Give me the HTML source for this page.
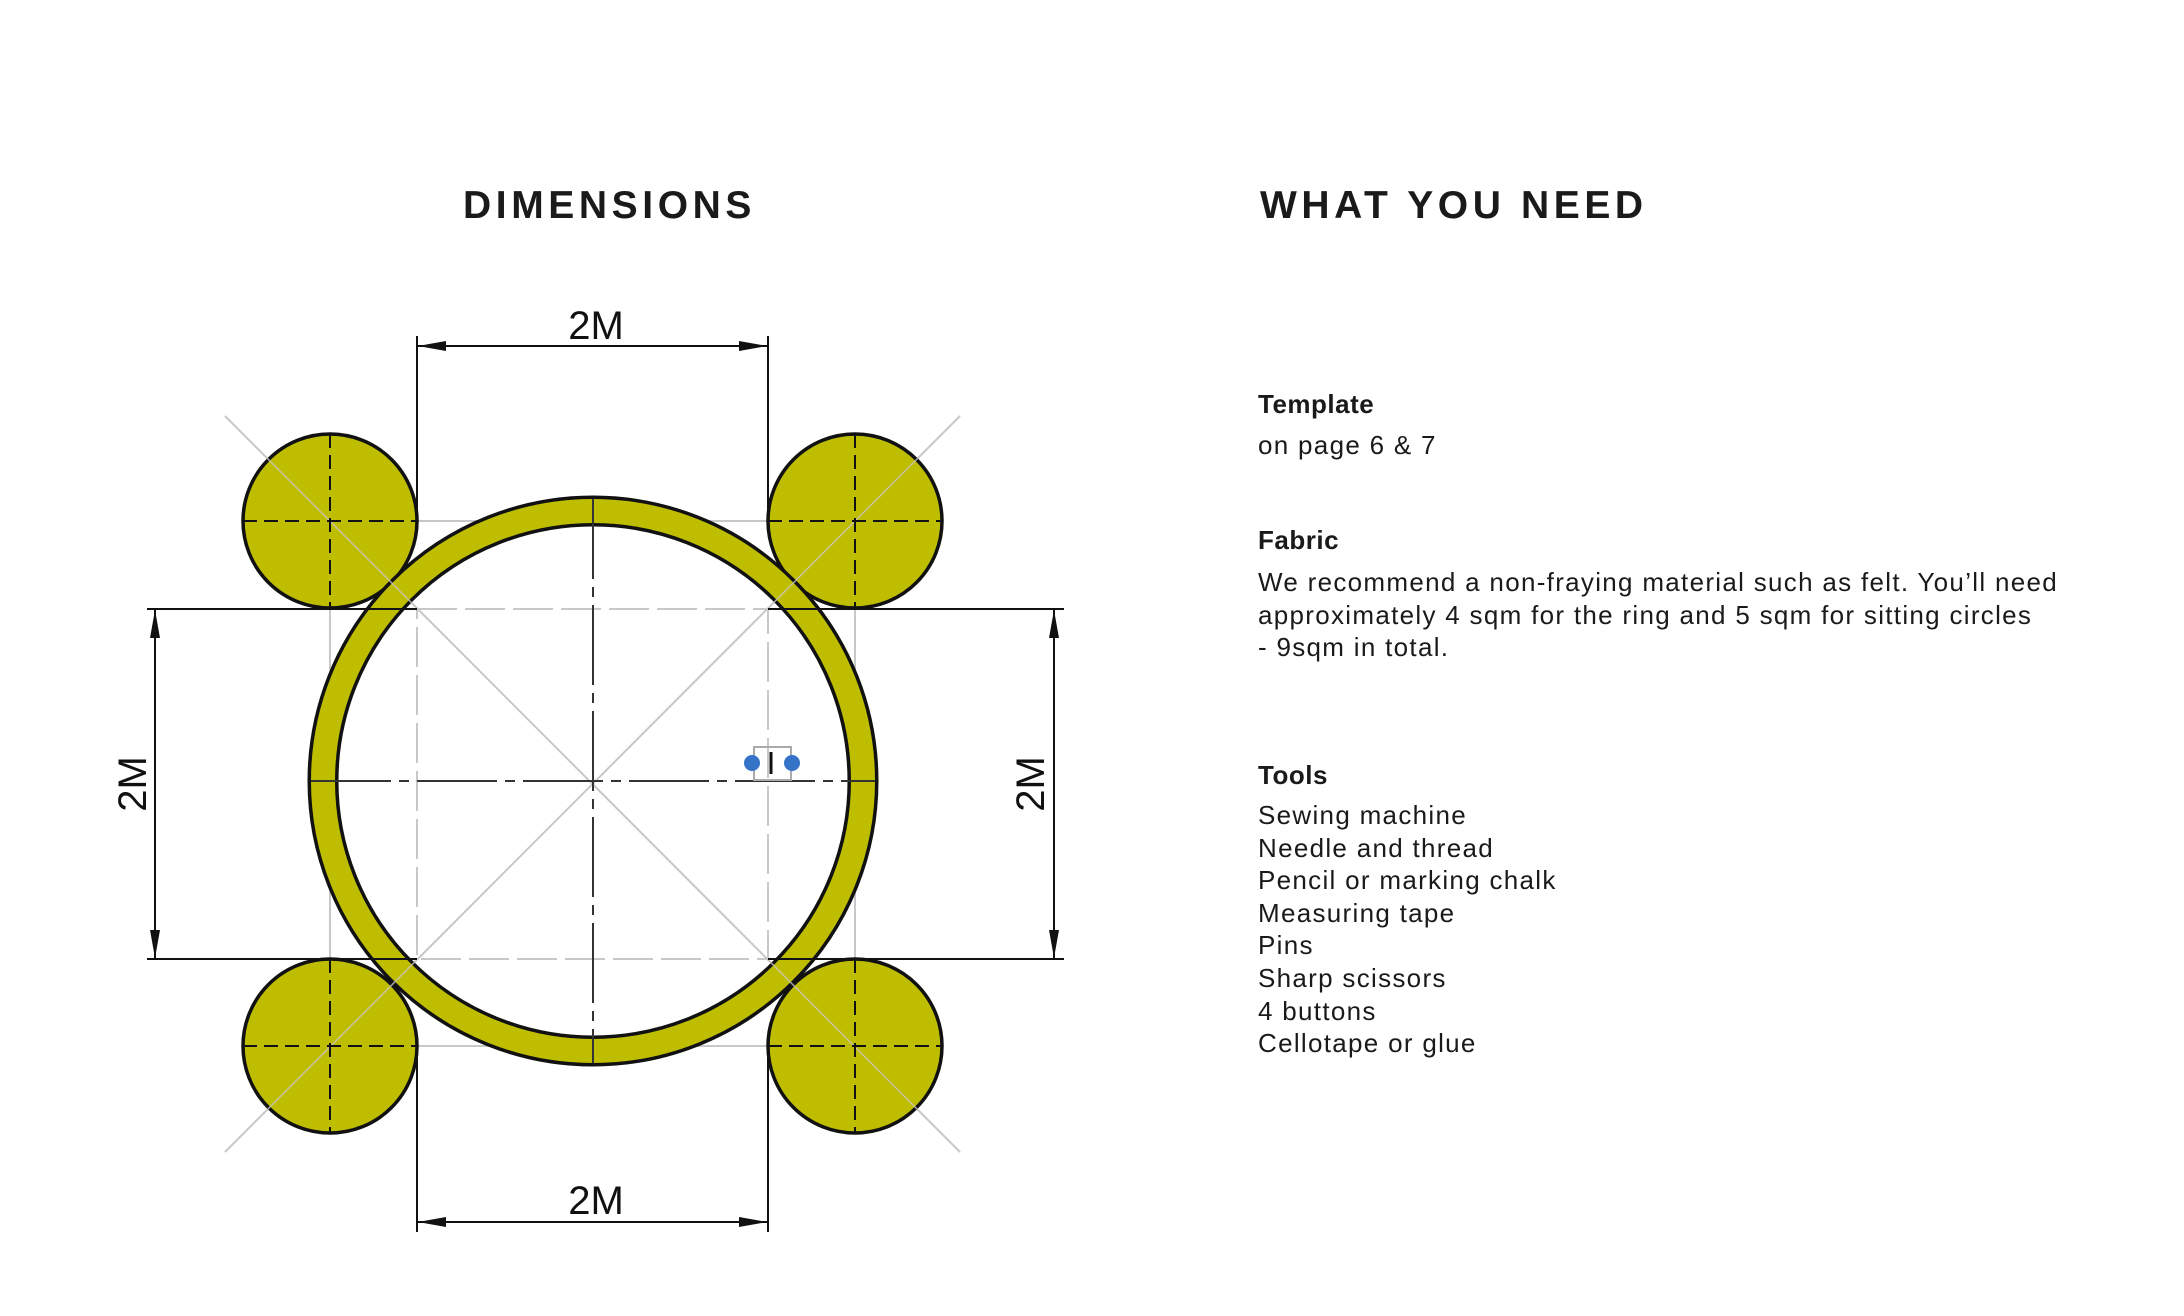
<!DOCTYPE html>
<html><head><meta charset="utf-8"><style>
html,body{margin:0;padding:0;background:#fff;}
body{width:2184px;height:1316px;position:relative;overflow:hidden;font-family:"Liberation Sans",sans-serif;color:#1a1a1a;}
.h{position:absolute;font-weight:bold;font-size:39px;letter-spacing:4.6px;top:184px;white-space:nowrap;}
.t{position:absolute;left:1261px;font-size:26px;letter-spacing:1.3px;line-height:32.6px;white-space:nowrap;}
.b{font-weight:bold;letter-spacing:0.5px;}
</style></head><body>
<div class="h" style="left:463px">DIMENSIONS</div>
<div class="h" style="left:1260px">WHAT YOU NEED</div>
<div class="t b" style="top:388px;left:1258px">Template</div>
<div class="t" style="top:429px;left:1258px">on page 6 &amp; 7</div>
<div class="t b" style="top:524px;left:1258px">Fabric</div>
<div class="t" style="top:566px;left:1258px">We recommend a non-fraying material such as felt. You’ll need<br>approximately 4 sqm for the ring and 5 sqm for sitting circles<br>- 9sqm in total.</div>
<div class="t b" style="top:759px;left:1258px">Tools</div>
<div class="t" style="top:799px;left:1258px">Sewing machine<br>Needle and thread<br>Pencil or marking chalk<br>Measuring tape<br>Pins<br>Sharp scissors<br>4 buttons<br>Cellotape or glue</div>
<svg width="2184" height="1316" style="position:absolute;left:0;top:0">
<defs>
<marker id="a" viewBox="0 0 28 12" refX="28" refY="6" markerWidth="28" markerHeight="12" markerUnits="userSpaceOnUse" orient="auto-start-reverse"><path d="M0,1 L28,6 L0,11z" fill="#111"/></marker>
</defs>
<g transform="translate(-3,-3)">
<g stroke="#c8c8c8" stroke-width="2" fill="none">
<line x1="228" y1="419" x2="963" y2="1155"/>
<line x1="963" y1="419" x2="228" y2="1155"/>
<rect x="333" y="524" width="525" height="525"/>
<rect x="420" y="612" width="351" height="350" stroke-dasharray="40 8"/>
</g>
<g fill="#bfbd00" stroke="#111" stroke-width="3.5">
<circle cx="333" cy="524" r="87"/><circle cx="858" cy="524" r="87"/>
<circle cx="333" cy="1049" r="87"/><circle cx="858" cy="1049" r="87"/>
</g>
<circle cx="596" cy="784" r="270" fill="none" stroke="#111" stroke-width="31"/>
<circle cx="596" cy="784" r="270" fill="none" stroke="#bfbd00" stroke-width="24"/>
<g stroke="#c8c8c8" stroke-width="1.5" opacity="0.8">
<line x1="228" y1="419" x2="963" y2="1155"/><line x1="963" y1="419" x2="228" y2="1155"/>
</g>
<g stroke="#111" stroke-width="2" stroke-dasharray="14 7">
<line x1="246" y1="524" x2="420" y2="524"/><line x1="333" y1="437" x2="333" y2="611"/>
<line x1="771" y1="524" x2="945" y2="524"/><line x1="858" y1="437" x2="858" y2="611"/>
<line x1="246" y1="1049" x2="420" y2="1049"/><line x1="333" y1="962" x2="333" y2="1136"/>
<line x1="771" y1="1049" x2="945" y2="1049"/><line x1="858" y1="962" x2="858" y2="1136"/>
</g>
<g stroke="#333" stroke-width="2">
<line x1="596" y1="502" x2="596" y2="1066" stroke-dasharray="80 8 10 8"/>
<line x1="314" y1="784" x2="878" y2="784" stroke-dasharray="80 8 10 8"/>
</g>
<g stroke="#111" stroke-width="2">
<line x1="420" y1="339" x2="420" y2="524"/><line x1="771" y1="339" x2="771" y2="524"/>
<line x1="420" y1="1049" x2="420" y2="1235"/><line x1="771" y1="1049" x2="771" y2="1235"/>
<line x1="150" y1="612" x2="420" y2="612"/><line x1="150" y1="962" x2="420" y2="962"/>
<line x1="771" y1="612" x2="1067" y2="612"/><line x1="771" y1="962" x2="1067" y2="962"/>
<line x1="421" y1="349" x2="770" y2="349" marker-start="url(#a)" marker-end="url(#a)"/>
<line x1="421" y1="1225" x2="770" y2="1225" marker-start="url(#a)" marker-end="url(#a)"/>
<line x1="158" y1="613" x2="158" y2="961" marker-start="url(#a)" marker-end="url(#a)"/>
<line x1="1057" y1="613" x2="1057" y2="961" marker-start="url(#a)" marker-end="url(#a)"/>
</g>
<g font-family="Liberation Sans, sans-serif" font-size="40" fill="#111" text-anchor="middle">
<text x="599" y="342">2M</text>
<text x="599" y="1217">2M</text>
<text transform="translate(149,787) rotate(-90)">2M</text>
<text transform="translate(1047,787) rotate(-90)">2M</text>
</g>
<rect x="757" y="750" width="37" height="33" fill="none" stroke="#aaa" stroke-width="2"/>
<line x1="774" y1="755" x2="774" y2="777" stroke="#111" stroke-width="3"/>
<circle cx="755" cy="766" r="8" fill="#3473c8"/><circle cx="795" cy="766" r="8" fill="#3473c8"/>
</g>
</svg>
</body></html>
